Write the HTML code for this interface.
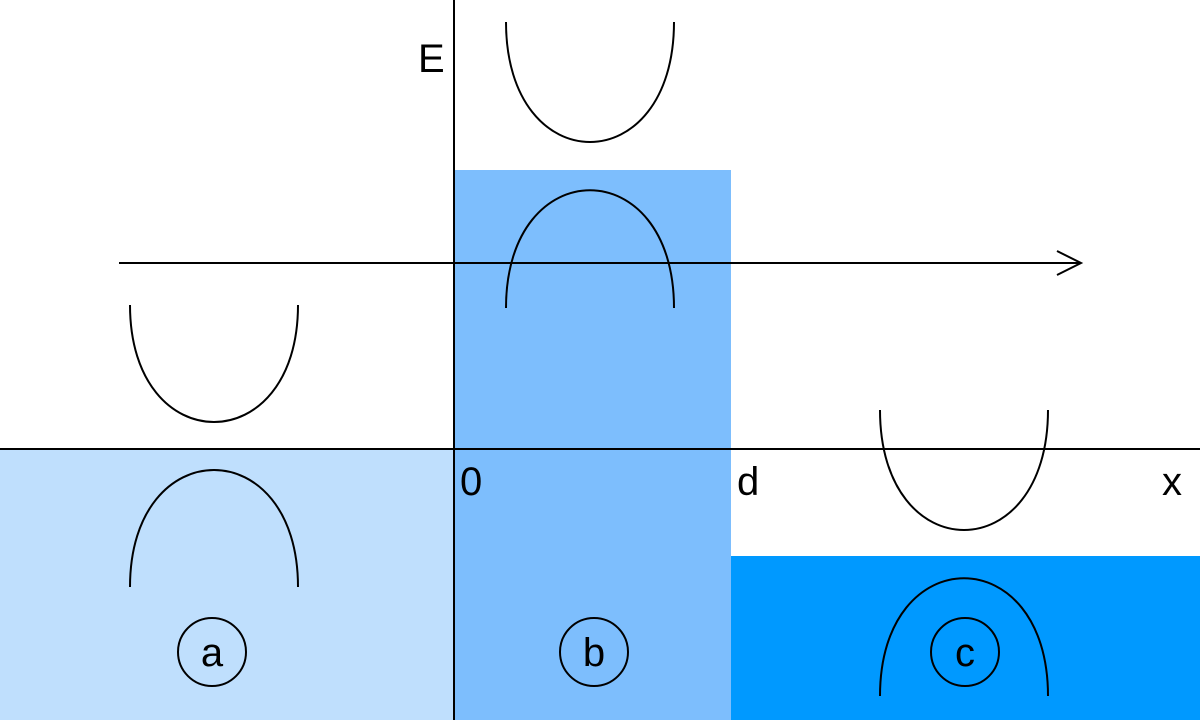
<!DOCTYPE html>
<html><head><meta charset="utf-8"><style>
html,body{margin:0;padding:0;background:#fff;}
svg{display:block;}
text{font-family:"Liberation Sans",sans-serif;}
</style></head><body>
<svg width="1200" height="720" viewBox="0 0 1200 720">
<rect x="0" y="449" width="454" height="271" fill="#bfdffd"/>
<rect x="455" y="170" width="276" height="550" fill="#7dbefd"/>
<rect x="731" y="556" width="469" height="164" fill="#0099ff"/>
<line x1="454" y1="0" x2="454" y2="720" stroke="#000" stroke-width="2"/>
<line x1="0" y1="449" x2="1200" y2="449" stroke="#000" stroke-width="2"/>
<g>
<line x1="119" y1="263" x2="1080" y2="263" stroke="#000" stroke-width="2"/>
<polyline points="1057,251 1081,263 1057,275" fill="none" stroke="#000" stroke-width="2"/>
</g>
<g fill="none" stroke="#000" stroke-width="2">
<path d="M130,305 C130,461 298,461 298,305"/>
<path d="M130,587 C130,431 298,431 298,587"/>
<path d="M506,22 C506,182 674,182 674,22"/>
<path d="M506,308 C506,151 674,151 674,308"/>
<path d="M880,410 C880,570 1048,570 1048,410"/>
<path d="M880,696 C880,539 1048,539 1048,696"/>
<circle cx="212" cy="652" r="34"/>
<circle cx="594" cy="652" r="34"/>
<circle cx="965" cy="652" r="34"/>
</g>
<g font-size="40" fill="#000">
<text x="418" y="72">E</text>
<text x="460" y="495">0</text>
<text x="737" y="495">d</text>
<text x="1162" y="495">x</text>
<text x="212" y="666" text-anchor="middle">a</text>
<text x="594" y="666" text-anchor="middle">b</text>
<text x="965" y="666" text-anchor="middle">c</text>
</g>
</svg>
</body></html>
